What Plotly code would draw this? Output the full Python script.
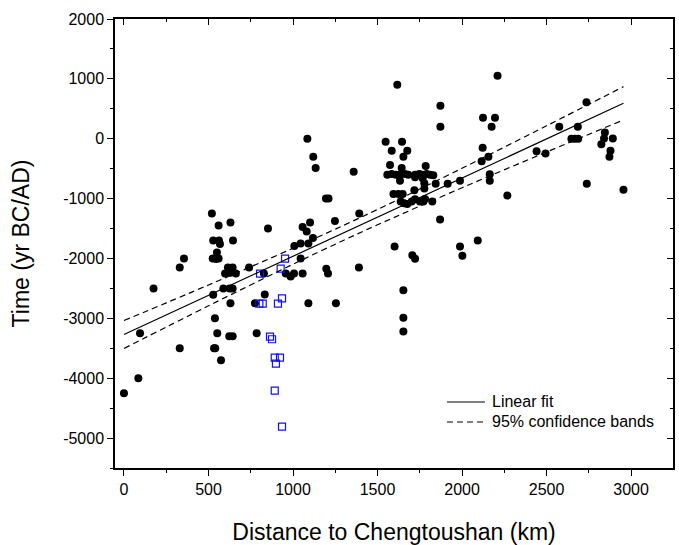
import plotly.graph_objects as go

# ---- data ----
dist_black = [0, 85, 95, 175, 330, 355, 330, 520, 560, 630, 528, 562, 568, 645, 550, 525, 545, 560,
              615, 643, 598, 630, 662, 740, 588, 625, 643, 528, 630, 785, 538, 552, 623, 643, 533, 540,
              574, 775, 833, 828, 852, 1008, 1045, 1091, 1118, 1045, 957, 986, 1006, 1057, 1197, 1207,
              1390, 1091, 1254, 1085, 1120, 1134, 1359, 1195, 1210, 1392, 1248, 1101, 1057, 1081,
              1601, 1653, 1653, 1653, 1706, 1722, 1988, 2002, 2093, 1870, 2268,
              1617, 1872, 1872, 1548, 1645, 1584, 1676, 1653, 1574, 1643, 1785,
              1558, 1584, 1609, 1633, 1663, 1682, 1722, 1747, 1767, 1791, 1811, 1830,
              1633, 1722, 1767, 1777, 1844, 1915, 1988,
              1594, 1623, 1649, 1718, 1777,
              1637, 1657, 1676, 1702, 1722, 1751, 1771, 1824, 1781,
              2210, 2124, 2195, 2175, 2122, 2116, 2156, 2164, 2164, 2441, 2494, 2575, 2685, 2736,
              2647, 2667, 2687, 2738, 2845, 2840, 2892, 2824, 2878, 2872, 2955]
time_black = [-4250, -4000, -3250, -2500, -2150, -2000, -3500, -1250, -1450, -1400, -1700, -1700, -1760,
              -1700, -1900, -2000, -2010, -2000, -2150, -2150, -2250, -2240, -2250, -2150, -2500, -2500,
              -2500, -2605, -2750, -3250, -3000, -3250, -3300, -3300, -3500, -3500, -3700, -2750, -2600,
              -2250, -1500, -1790, -1750, -1750, -1660, -2000, -2250, -2300, -2250, -2250, -2170, -2250,
              -2150, -2750, -2750, 0, -300, -490, -550, -1000, -1000, -1250, -1375, -1400, -1475, -1550,
              -1800, -2530, -2990, -3220, -1946, -2003, -1800, -1953, -1700, -1350, -950,
              900, 550, 200, -50, -50, -200, -200, -300, -440, -490, -455,
              -600, -590, -600, -600, -590, -600, -600, -590, -600, -590, -600, -610,
              -700, -643, -660, -744, -750, -750, -700,
              -925, -925, -925, -860, -830,
              -1050, -1078, -1090, -1050, -1010, -1050, -1050, -1050, -1006,
              1050, 352, 352, 201, -150, -375, -300, -594, -700, -210, -245, 201, 201, 609,
              0, 0, 0, -751, 105, 5, 5, -92, -199, -300, -851]

dist_blue = [805, 953, 927, 801, 821, 911, 935, 864, 876, 892, 923, 899, 892, 935]
time_blue = [-2253, -2003, -2170, -2754, -2754, -2754, -2665, -3306, -3349, -3656, -3656, -3756, -4206, -4808]

fit_x = [0, 2955]
fit_y = [-3270, 592]

band_x = [0, 500, 1000, 1300, 1500, 2000, 2500, 2955]
band_upper = [-3037, -2443, -1830, -1446, -1182, -493, 216, 870]
band_lower = [-3503, -2791, -2096, -1696, -1438, -819, -222, 314]

legend_labels = ["Linear fit", "95% confidence bands"]

x_ticks = [0, 500, 1000, 1500, 2000, 2500, 3000]
y_ticks = [-5000, -4000, -3000, -2000, -1000, 0, 1000, 2000]
y_ticklabels = ["-5000", "-4000", "-3000", "-2000", "-1000", "0", "1000", "2000"]

X_RANGE = [-53, 3248]
Y_RANGE = [-5500, 2000]
FONT = "Liberation Sans, Arial, sans-serif"
DASH = "6px,4px"

fig = go.Figure()
fig.add_trace(go.Scatter(x=dist_black, y=time_black, mode="markers",
                         marker=dict(color="black", size=8), showlegend=False))
fig.add_trace(go.Scatter(x=dist_blue, y=time_blue, mode="markers",
                         marker=dict(symbol="square-open", color="#1010ff", size=7,
                                     line=dict(width=1.2, color="#1010ff")),
                         showlegend=False))
fig.add_trace(go.Scatter(x=fit_x, y=fit_y, mode="lines", name=legend_labels[0], showlegend=False,
                         line=dict(color="black", width=1.2)))
fig.add_trace(go.Scatter(x=band_x, y=band_upper, mode="lines", name=legend_labels[1], showlegend=False,
                         line=dict(color="black", width=1.2, dash=DASH, shape="spline")))
fig.add_trace(go.Scatter(x=band_x, y=band_lower, mode="lines", showlegend=False,
                         line=dict(color="black", width=1.2, dash=DASH, shape="spline")))

axis_common = dict(showline=True, linecolor="black", linewidth=1.5, showgrid=False,
                   zeroline=False, tickcolor="black", tickwidth=1.2, automargin=False)

# hand-built legend (line samples + labels) in paper coordinates
leg_x0, leg_x1, leg_tx = 0.595, 0.663, 0.672
leg_rows = [0.147, 0.1025]
leg_dash = ["solid", DASH]
shapes = []
annotations = []
for label, yy, dsh in zip(legend_labels, leg_rows, leg_dash):
    shapes.append(dict(type="line", xref="paper", yref="paper", x0=leg_x0, x1=leg_x1, y0=yy, y1=yy,
                       line=dict(color="black", width=1.2, dash=dsh)))
    annotations.append(dict(text=label, xref="paper", yref="paper", x=leg_tx, y=yy,
                            xanchor="left", yanchor="middle", showarrow=False,
                            font=dict(size=16, family=FONT, color="black")))

fig.update_layout(
    width=679, height=545,
    margin=dict(l=115, r=6, t=19, b=77, autoexpand=False),
    paper_bgcolor="white", plot_bgcolor="white",
    font=dict(family=FONT, color="black", size=16),
    showlegend=False,
    shapes=shapes, annotations=annotations,
    xaxis=dict(range=X_RANGE, tickvals=x_ticks, ticks="outside", ticklen=6,
               minor=dict(dtick=250, tick0=0, ticks="outside", ticklen=3, tickcolor="black", tickwidth=1),
               tickfont=dict(size=16),
               title=dict(text="Distance to Chengtoushan (km)", font=dict(size=23), standoff=30),
               **axis_common),
    xaxis2=dict(range=X_RANGE, overlaying="x", side="top", tickvals=x_ticks, ticks="inside",
                ticklen=6, showticklabels=False,
                minor=dict(dtick=250, tick0=0, ticks="inside", ticklen=3, tickcolor="black", tickwidth=1),
                **axis_common),
    yaxis=dict(range=Y_RANGE, tickvals=y_ticks, ticktext=y_ticklabels, ticks="outside", ticklen=6,
               minor=dict(dtick=500, tick0=0, ticks="outside", ticklen=3, tickcolor="black", tickwidth=1),
               tickfont=dict(size=16),
               title=dict(text="Time (yr BC/AD)", font=dict(size=23), standoff=27),
               **axis_common),
    yaxis2=dict(range=Y_RANGE, overlaying="y", side="right", tickvals=y_ticks, ticks="inside",
                ticklen=6, showticklabels=False,
                minor=dict(dtick=500, tick0=0, ticks="inside", ticklen=3, tickcolor="black", tickwidth=1),
                **axis_common),
)

# invisible trace to anchor the mirrored axes
fig.add_trace(go.Scatter(x=[None], y=[None], xaxis="x2", yaxis="y2", showlegend=False, hoverinfo="skip"))

fig.write_html("out.html", config={"displayModeBar": False},
               post_script="document.body.style.margin='0';")
